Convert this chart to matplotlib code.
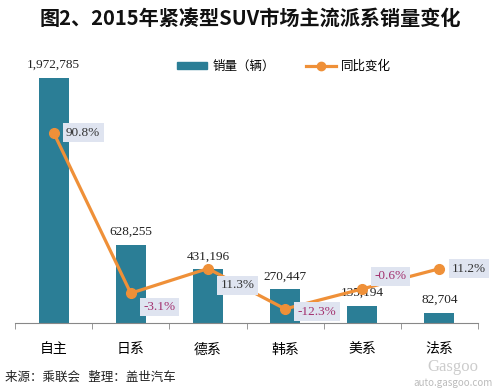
import matplotlib
matplotlib.use("Agg")
import matplotlib.pyplot as plt
from matplotlib.lines import Line2D
from matplotlib.patches import Patch

plt.rcParams['font.family'] = ['Noto Sans CJK SC', 'DejaVu Sans']

categories = ['自主', '日系', '德系', '韩系', '美系', '法系']
sales = [1972785, 628255, 431196, 270447, 135194, 82704]
yoy = [90.8, -3.1, 11.3, -12.3, -0.6, 11.2]
title = '图2、2015年紧凑型SUV市场主流派系销量变化'
legend_labels = ['销量（辆）', '同比变化']
source = '来源：乘联会   整理：盖世汽车'

bar_color = '#2b7e96'
line_color = '#ef9038'
box_color = '#dfe4f0'
neg_color = '#a3306e'
pos_color = '#333333'

# label offsets (points) for percentage boxes
pct_offsets = [(9, 0), (9, -10), (9, -12), (9, -2), (9, 9), (9, 0)]

fig = plt.figure(figsize=(5.0, 3.91), dpi=100)
ax = fig.add_axes([0.03, 0.174, 0.926, 0.724])
x = list(range(len(categories)))
bars = ax.bar(x, sales, width=0.39, color=bar_color, zorder=2)
ax.set_xlim(-0.5, len(categories) - 0.5)
ax.set_ylim(0, 2279000)
for xi, v in zip(x, sales):
    ax.annotate(f'{v:,}', (xi, v), xytext=(0, 5), textcoords='offset points',
                ha='center', va='bottom', fontsize=9.5,
                family='Liberation Serif', color='#222222')

for s in ['top', 'right', 'left']:
    ax.spines[s].set_visible(False)
ax.spines['bottom'].set_color('#888888')
ax.set_yticks([])
ax.set_xticks(x)
ax.set_xticklabels(categories, fontsize=10)
ax.tick_params(axis='x', which='major', length=0, pad=14)
ax.set_xticks([i - 0.5 for i in range(len(categories) + 1)], minor=True)
ax.tick_params(axis='x', which='minor', length=4, color='#888888', direction='out')

ax2 = ax.twinx()
ax2.set_ylim(-20.5, 145)
ax2.plot(x, yoy, color=line_color, lw=2.3, marker='o', ms=7, zorder=3)
ax2.axis('off')
for xi, v, off in zip(x, yoy, pct_offsets):
    ax2.annotate(f'{v:.1f}%', (xi, v), xytext=off, textcoords='offset points',
                 ha='left', va='center', fontsize=9.5,
                 family='Liberation Serif',
                 color=neg_color if v < 0 else pos_color,
                 bbox=dict(boxstyle='square,pad=0.25', fc=box_color, ec='none'))

handles = [Patch(color=bar_color),
           Line2D([0], [0], color=line_color, lw=2.3, marker='o', ms=6)]
fig.legend(handles, legend_labels, ncol=2, loc='center',
           bbox_to_anchor=(0.568, 0.831), frameon=False, fontsize=9,
           handlelength=2.4, handleheight=0.5, columnspacing=2.5,
           handletextpad=0.4)

fig.text(0.5, 0.953, title, ha='center', va='center', fontsize=14.5,
         fontweight='bold', color='#111111')
fig.text(0.01, 0.035, source, ha='left', va='center', fontsize=9,
         style='italic', color='#222222')
fig.text(0.905, 0.062, 'Gasgoo', ha='center', va='center', fontsize=12,
         color='#cccccc', family='Liberation Serif')
fig.text(0.905, 0.02, 'auto.gasgoo.com', ha='center', va='center',
         fontsize=7, color='#bbbbbb')

fig.savefig('out.png', dpi=100)
